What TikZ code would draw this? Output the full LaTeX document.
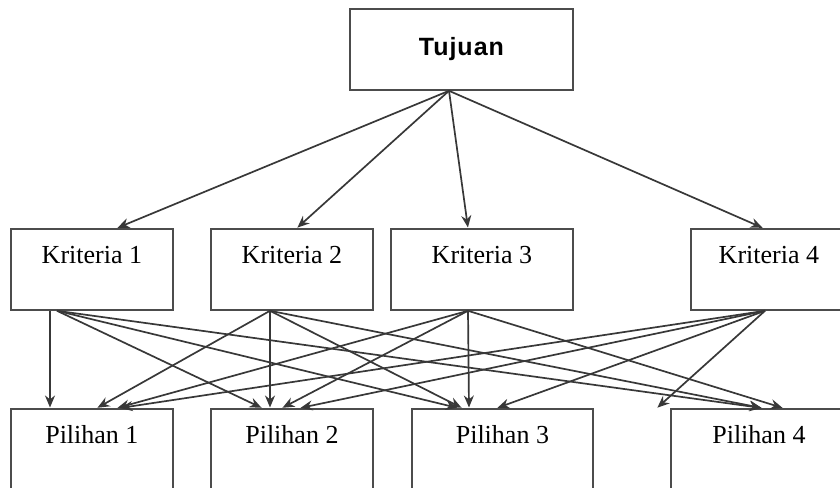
\documentclass[tikz,border=0pt]{standalone}
\usepackage{fontspec}
\setmainfont{Liberation Serif}
\newfontfamily\goalfont[LetterSpace=4]{Liberation Sans}
\usepackage{tikz}
\usetikzlibrary{arrows.meta}

\begin{document}
\begin{tikzpicture}[x=1pt,y=-1pt,>={Stealth[length=12pt,width=10pt]},shorten >=0.5pt,
  box/.style={rectangle,draw=black!70,line width=1.8pt,fill=white,anchor=north west,
    inner sep=0pt,text height=35pt,text depth=46pt,font=\fontsize{26}{30}\selectfont},
  goal/.style={rectangle,draw=black!70,line width=1.8pt,fill=white,anchor=north west,
    inner sep=0pt,minimum width=223pt,minimum height=81pt,
    font=\goalfont\bfseries\fontsize{25}{29}\selectfont},
  link/.style={->,every edge/.append style={draw=black!78,line width=1.7pt}}]

  \useasboundingbox (0,0) rectangle (840,487);
  \clip (0,0) rectangle (840,487);

  \node[goal] (t) at (349,8) {Tujuan};
  \node[box,minimum width=162pt] (k1) at (10,228) {Kriteria 1};
  \node[box,minimum width=162pt] (k2) at (210,228) {Kriteria 2};
  \node[box,minimum width=182pt] (k3) at (390,228) {Kriteria 3};
  \node[box,minimum width=156pt] (k4) at (690,228) {Kriteria 4};
  \node[box,minimum width=162pt] (p1) at (10,408) {Pilihan 1};
  \node[box,minimum width=162pt] (p2) at (210,408) {Pilihan 2};
  \node[box,minimum width=181pt] (p3) at (411,408) {Pilihan 3};
  \node[box,minimum width=176pt] (p4) at (670,408) {Pilihan 4};

  \coordinate (apex) at ([xshift=100pt]t.south west);

  \path[link]
    (apex) edge node {} ([xshift=107pt]k1.north west)
    (apex) edge node {} ([xshift=87pt]k2.north west)
    (apex) edge node {} ([xshift=78pt]k3.north west)
    (apex) edge node {} ([xshift=73pt]k4.north west);

  \path[link]
    ([xshift=40pt]k1.south west) edge node {} ([xshift=40pt]p1.north west)
    ([xshift=47pt]k1.south west) edge node {} ([xshift=52pt]p2.north west)
    ([xshift=47pt]k1.south west) edge node {} ([xshift=47pt]p3.north west)
    ([xshift=47pt]k1.south west) edge node {} ([xshift=92pt]p4.north west)
    ([xshift=60pt]k2.south west) edge node {} ([xshift=87pt]p1.north west)
    ([xshift=60pt]k2.south west) edge node {} ([xshift=60pt]p2.north west)
    ([xshift=60pt]k2.south west) edge node {} ([xshift=51pt]p3.north west)
    ([xshift=60pt]k2.south west) edge node {} ([xshift=92pt]p4.north west)
    ([xshift=78pt]k3.south west) edge node {} ([xshift=107pt]p1.north west)
    ([xshift=78pt]k3.south west) edge node {} ([xshift=72pt]p2.north west)
    ([xshift=78pt]k3.south west) edge node {} ([xshift=58pt]p3.north west)
    ([xshift=78pt]k3.south west) edge node {} ([xshift=113pt]p4.north west)
    ([xshift=75pt]k4.south west) edge node {} ([xshift=110pt]p1.north west)
    ([xshift=75pt]k4.south west) edge node {} ([xshift=90pt]p2.north west)
    ([xshift=75pt]k4.south west) edge node {} ([xshift=86pt]p3.north west)
    ([xshift=75pt]k4.south west) edge node {} ([xshift=-13pt]p4.north west);

\end{tikzpicture}
\end{document}
